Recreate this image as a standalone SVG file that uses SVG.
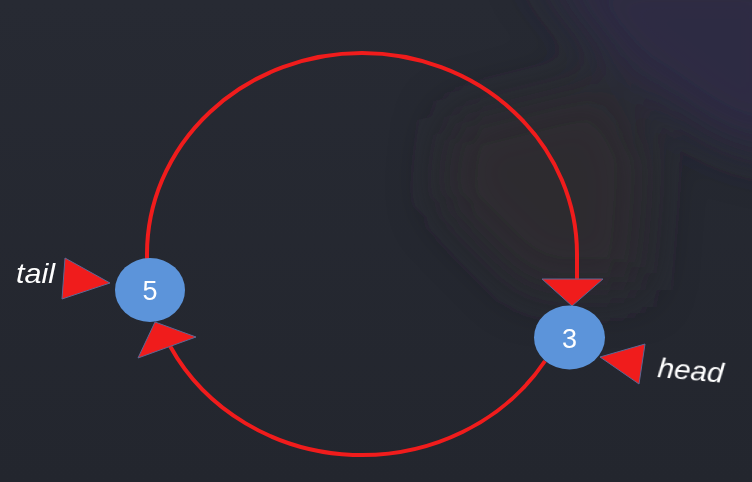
<svg xmlns="http://www.w3.org/2000/svg" width="752" height="482" viewBox="0 0 752 482">
  <defs>
    <filter id="blur" x="-50%" y="-50%" width="200%" height="200%">
      <feGaussianBlur stdDeviation="25"/>
    </filter>
    <linearGradient id="bg" x1="0" y1="0" x2="0" y2="1">
      <stop offset="0" stop-color="#272a33"/>
      <stop offset="1" stop-color="#23262e"/>
    </linearGradient>
  </defs>
  <style>
    .link { fill: none; stroke: #f01c1c; stroke-width: 4; }
    .head { fill: #f01c1c; stroke: #5d6894; stroke-width: 1; }
    .node { fill: #5c94da; }
    .num { fill: #ffffff; font-family: "Liberation Sans", Arial, sans-serif; font-size: 27px; text-anchor: middle; }
    .lbl { fill: #ffffff; font-family: "Liberation Sans", Arial, sans-serif; font-size: 28px; font-style: italic; }
  </style>
  <rect x="0" y="0" width="752" height="482" fill="url(#bg)"/>
  <g id="background" filter="url(#blur)">
    <path d="M530,-40 L800,-40 L800,160 L720,140 L620,70 Z" fill="#302d48" opacity="0.8"/>
    <path d="M450,120 L610,80 L650,160 L640,290 L530,290 L440,200 Z" fill="#2e2a30" opacity="0.8"/>
  </g>
  <g id="connectors">
    <path class="link" d="M147,262 L147,254 A215,201 0 0 1 577,254 L577,280"/>
    <path class="link" d="M545,361 A216,201 0 0 1 170,346"/>
    <polygon class="head" points="542,279 603,279 572,306"/>
    <polygon class="head" points="155,322 196,337 138,358"/>
  </g>
  <g id="node-5">
    <ellipse class="node" cx="150" cy="290" rx="35" ry="32"/>
    <text class="num" x="150" y="300">5</text>
  </g>
  <g id="node-3">
    <ellipse class="node" cx="569.5" cy="337.5" rx="35.5" ry="32"/>
    <text class="num" x="569.5" y="348">3</text>
  </g>
  <g id="tail">
    <polygon class="head" points="65,258 62,299 110,283"/>
    <text class="lbl" x="16" y="283" textLength="39" lengthAdjust="spacingAndGlyphs">tail</text>
  </g>
  <g id="head">
    <polygon class="head" points="600,357 645,344 639,384"/>
    <text class="lbl" x="657" y="377" transform="rotate(5 657 377)" textLength="66" lengthAdjust="spacingAndGlyphs">head</text>
  </g>
</svg>
